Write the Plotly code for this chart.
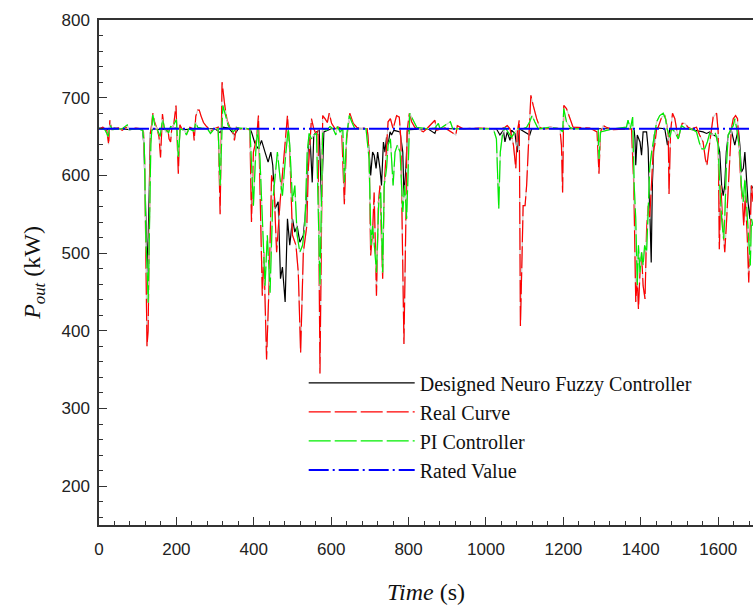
import plotly.graph_objects as go

# ---------------- data ----------------
t_nf = [0, 20, 40, 60, 80, 100, 112, 116, 120, 125, 129, 133, 140, 160, 180, 200, 220, 250, 280, 300,
        313, 320, 335, 350, 360, 390, 394, 403, 412, 420, 429, 437, 444, 449, 455, 459, 463, 469, 474,
        481, 487, 493, 500, 506, 512, 519, 528, 535, 541, 545, 551, 555, 562, 569, 575, 581, 600, 640,
        680, 693, 698, 702, 707, 711, 716, 720, 726, 730, 735, 739, 743, 747, 752, 756, 762, 778, 785,
        788, 793, 797, 803, 850, 868, 872, 950, 1027, 1036, 1045, 1049, 1055, 1062, 1066, 1075, 1081,
        1086, 1113, 1118, 1200, 1300, 1379, 1383, 1385, 1387, 1391, 1398, 1402, 1406, 1415, 1419, 1423,
        1427, 1430, 1435, 1441, 1462, 1469, 1475, 1520, 1561, 1570, 1578, 1587, 1596, 1604, 1609, 1613,
        1617, 1621, 1626, 1634, 1643, 1652, 1656, 1660, 1665, 1669, 1673, 1677, 1682, 1686, 1690]
p_nf = [660, 659, 661, 660, 659, 660, 660, 640, 560, 475, 560, 656, 660, 659, 660, 661, 659, 660, 660, 660,
        655, 662, 661, 652, 660, 660, 656, 641, 634, 645, 630, 617, 630, 613, 557, 561, 566, 467, 482,
        437, 544, 510, 544, 527, 535, 514, 523, 561, 639, 652, 591, 652, 656, 658, 566, 656, 660, 660,
        660, 660, 630, 600, 630, 626, 609, 630, 609, 587, 643, 630, 649, 639, 656, 652, 658, 656, 630,
        574, 609, 656, 659, 660, 654, 660, 660, 660, 652, 658, 643, 656, 645, 658, 654, 630,
        660, 652, 660, 660, 660, 660, 658, 647, 613, 652, 643, 626, 656, 656, 635, 560,
        488, 590, 652, 661, 660, 639, 660, 660, 656, 654, 656, 652, 650, 630, 587, 574,
        587, 630, 652, 658, 639, 660, 639, 604, 609, 630, 600, 566, 544, 587, 583]

t_real = [0, 10, 20, 25, 28, 33, 50, 60, 70, 80, 95, 110, 115, 118, 121, 124, 127, 130, 133, 136, 139, 144,
          150, 155, 159, 164, 168, 173, 178, 181, 185, 188, 193, 199, 203, 205, 209, 214, 220, 228, 235,
          243, 246, 250, 255, 259, 264, 270, 276, 282, 290, 298, 308, 313, 318, 325, 331, 338, 345, 350,
          355, 365, 380, 390, 394, 399, 407, 412, 416, 422, 426, 433, 440, 446, 452, 459, 468, 476, 487,
          493, 500, 509, 515, 521, 528, 537, 541, 549, 555, 562, 566, 571, 578, 584, 590, 595, 601, 610,
          619, 627, 634, 640, 648, 657, 666, 680, 693, 698, 702, 707, 711, 717, 722, 726, 733, 737, 743,
          747, 753, 760, 769, 776, 780, 784, 788, 793, 796, 802, 808, 816, 829, 838, 847, 868, 872, 894,
          922, 926, 941, 984, 1027, 1040, 1049, 1055, 1062, 1071, 1077, 1081, 1086, 1089, 1093, 1096,
          1101, 1105, 1109, 1113, 1116, 1122, 1131, 1139, 1148, 1156, 1165, 1191, 1195, 1198, 1201, 1208,
          1217, 1225, 1268, 1287, 1292, 1296, 1303, 1311, 1329, 1363, 1376, 1382, 1385, 1387, 1391, 1394,
          1398, 1402, 1406, 1411, 1415, 1419, 1423, 1428, 1432, 1436, 1441, 1445, 1454, 1462, 1466, 1471,
          1473, 1477, 1482, 1488, 1492, 1497, 1501, 1507, 1514, 1522, 1531, 1544, 1552, 1561, 1567, 1571,
          1575, 1580, 1587, 1596, 1600, 1603, 1607, 1611, 1617, 1621, 1626, 1630, 1634, 1639, 1645, 1650,
          1654, 1659, 1663, 1666, 1670, 1675, 1679, 1682, 1686, 1690]
p_real = [660, 662, 658, 640, 671, 659, 661, 658, 662, 659, 661, 660, 656, 620, 500, 380, 400, 560, 655, 665,
          680, 668, 660, 650, 623, 679, 662, 655, 660, 647, 643, 660, 665, 690, 640, 602, 665, 660, 658, 655,
          662, 660, 645, 676, 684, 684, 676, 668, 664, 661, 657, 660, 662, 550, 720, 690, 671, 662, 659, 645,
          662, 660, 661, 658, 540, 630, 647, 677, 574, 445, 501, 363, 467, 600, 587, 501, 566, 609, 677,
          630, 523, 510, 475, 372, 501, 535, 609, 673, 660, 652, 658, 345, 677, 673, 668, 680, 667, 660,
          662, 660, 563, 647, 680, 667, 662, 661, 660, 630, 497, 527, 578, 445, 565, 587, 467, 587, 643,
          669, 673, 660, 677, 675, 647, 501, 383, 544, 656, 680, 669, 662, 658, 656, 660, 671, 658, 661,
          652, 664, 660, 661, 660, 660, 662, 664, 660, 639, 609, 656, 671, 406, 492, 561,
          561, 587, 630, 673, 703, 690, 673, 662, 660, 660, 662, 660, 639, 578, 690, 686,
          673, 662, 661, 656, 602, 656, 664, 662, 659, 660, 660, 587, 501, 437, 467, 428,
          475, 501, 458, 441, 530, 561, 544, 587, 630, 639, 660, 662, 675, 677, 669, 652,
          576, 656, 680, 673, 660, 647, 656, 667, 667, 662, 660, 662, 652, 643, 621, 613,
          630, 652, 675, 680, 656, 505, 587, 544, 501, 535, 587, 630, 660, 673, 677, 673,
          630, 587, 566, 535, 574, 523, 462, 523, 587, 566]

t_pi = [0, 15, 24, 28, 35, 60, 73, 78, 100, 113, 117, 121, 125, 127, 130, 134, 139, 144, 150, 158, 164, 170,
        180, 185, 190, 200, 205, 210, 220, 226, 232, 245, 250, 255, 265, 280, 288, 298, 308, 313, 320, 326,
        334, 347, 356, 390, 394, 399, 405, 410, 416, 422, 429, 435, 442, 449, 455, 461, 468, 474, 483, 489,
        493, 500, 506, 512, 519, 526, 532, 538, 543, 549, 555, 562, 571, 578, 588, 597, 605, 612, 616, 623,
        630, 634, 640, 647, 653, 661, 690, 698, 703, 707, 713, 717, 723, 728, 733, 737, 743, 747, 753, 760,
        765, 771, 778, 785, 790, 795, 799, 803, 810, 821, 850, 868, 877, 881, 908, 914, 1000, 1019, 1027,
        1033, 1037, 1043, 1049, 1057, 1066, 1075, 1083, 1095, 1105, 1113, 1119, 1126, 1135, 1165, 1191,
        1198, 1201, 1208, 1217, 1225, 1290, 1292, 1296, 1329, 1363, 1367, 1373, 1379, 1383, 1387, 1391,
        1394, 1398, 1402, 1406, 1410, 1415, 1419, 1423, 1428, 1436, 1441, 1449, 1458, 1464, 1468, 1475,
        1480, 1488, 1497, 1505, 1518, 1531, 1544, 1552, 1558, 1565, 1572, 1578, 1587, 1593, 1600, 1604,
        1609, 1614, 1617, 1621, 1626, 1633, 1639, 1643, 1648, 1656, 1660, 1665, 1669, 1673, 1679, 1683,
        1686, 1690]
p_pi = [661, 659, 650, 665, 659, 660, 665, 659, 660, 658, 640, 520, 470, 436, 520, 640, 678, 665, 660, 650, 672, 660,
        655, 663, 662, 672, 624, 660, 658, 652, 660, 657, 668, 662, 661, 660, 654, 660, 660, 587, 690, 677,
        664, 656, 661, 660, 609, 561, 630, 660, 621, 535, 458, 523, 449, 566, 596, 630, 596, 574, 630, 660,
        639, 566, 587, 523, 501, 510, 535, 630, 654, 647, 652, 654, 458, 660, 658, 663, 660, 652, 663, 656,
        660, 591, 652, 677, 669, 660, 660, 621, 510, 535, 501, 475, 566, 578, 475, 587, 609, 639, 647, 587,
        630, 639, 630, 553, 587, 544, 609, 680, 673, 662, 660, 661, 667, 660, 669, 660, 660, 660, 647,
        557, 630, 654, 662, 656, 649, 656, 660, 660, 662, 669, 677, 669, 660, 662, 660,
        656, 686, 669, 662, 660, 660, 621, 656, 660, 662, 671, 660, 675, 587, 544, 458,
        510, 475, 501, 484, 510, 501, 553, 609, 630, 652, 669, 677, 680, 673, 660, 649,
        660, 656, 647, 664, 660, 660, 656, 641, 634, 634, 643, 654, 652, 654, 639, 587,
        544, 518, 544, 609, 652, 660, 664, 673, 660, 630, 587, 566, 596, 566, 523, 484,
        544, 535]

t_rated = [0, 1700]
p_rated = [660, 660]

x_ticks = [0, 200, 400, 600, 800, 1000, 1200, 1400, 1600]
y_ticks = [200, 300, 400, 500, 600, 700, 800]

# ---------------- figure ----------------
fig = go.Figure()
GRAY = "#cfcfcf"

fig.add_trace(go.Scatter(x=t_nf, y=p_nf, mode="lines", name="Designed Neuro Fuzzy Controller",
                         line=dict(color="black", width=1.2)))
fig.add_trace(go.Scatter(x=t_real, y=p_real, mode="lines", showlegend=False, hoverinfo="skip",
                         line=dict(color=GRAY, width=1.2)))
fig.add_trace(go.Scatter(x=t_real, y=p_real, mode="lines", name="Real Curve",
                         line=dict(color="#ff0000", width=1.2, dash="22px,4px")))
fig.add_trace(go.Scatter(x=t_pi, y=p_pi, mode="lines", showlegend=False, hoverinfo="skip",
                         line=dict(color=GRAY, width=1.2)))
fig.add_trace(go.Scatter(x=t_pi, y=p_pi, mode="lines", name="PI Controller",
                         line=dict(color="#00ee00", width=1.2, dash="22px,4px")))
fig.add_trace(go.Scatter(x=t_rated, y=p_rated, mode="lines", name="Rated Value",
                         line=dict(color="#0000ff", width=2, dash="20px,4px,2px,4px")))

axis_common = dict(
    showgrid=False, zeroline=False, showline=True, linecolor="#333333", linewidth=1.5,
    ticks="inside", ticklen=8, tickwidth=1.2, tickcolor="#333333",
    tickfont=dict(family="Liberation Sans, Arial", size=17, color="#222222"),
)

fig.update_xaxes(
    **axis_common, range=[0, 1690], tickvals=x_ticks, mirror=True,
    minor=dict(dtick=40, ticks="inside", ticklen=4, tickwidth=1, tickcolor="#333333", showgrid=False),
    ticklabelstandoff=8,
    title=dict(text="<i>Time</i> (s)", font=dict(family="Liberation Serif, Times New Roman", size=24, color="#111111"),
               standoff=25),
)
fig.update_yaxes(
    **axis_common, range=[150, 800], tickvals=y_ticks,
    minor=dict(dtick=20, ticks="inside", ticklen=4, tickwidth=1, tickcolor="#333333", showgrid=False),
    ticklabelstandoff=4,
    title=dict(text="<i>P<sub>out</sub></i> (kW)", font=dict(family="Liberation Serif, Times New Roman", size=24, color="#111111"),
               standoff=14),
)

fig.update_layout(
    width=753, height=605,
    margin=dict(l=99, r=0, t=20, b=80),
    plot_bgcolor="white", paper_bgcolor="white",
    legend=dict(x=0.313, y=0.32, xanchor="left", yanchor="top",
                font=dict(family="Liberation Serif, Times New Roman", size=20, color="#111111"),
                bgcolor="rgba(0,0,0,0)", itemwidth=106, tracegroupgap=0),
)

fig.write_html("out.html")
